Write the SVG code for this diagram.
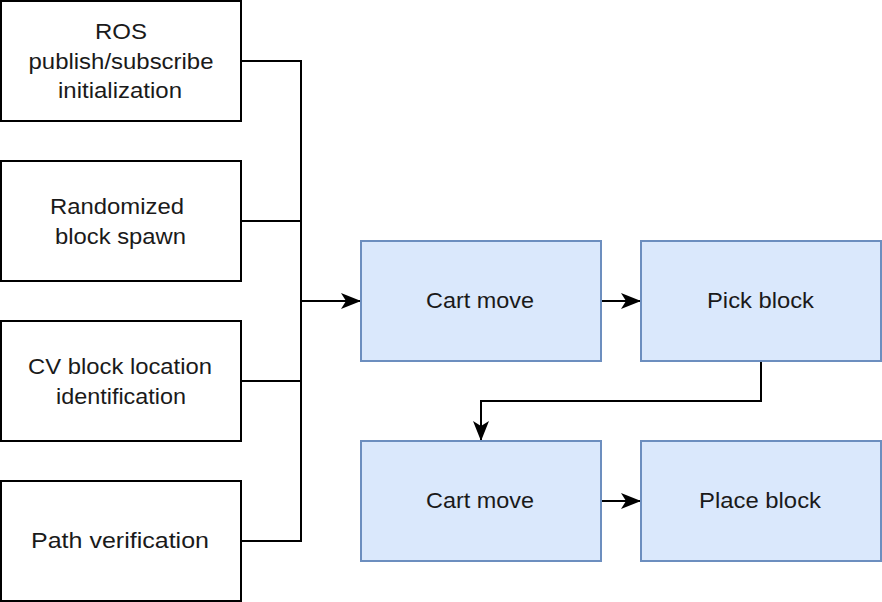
<svg xmlns="http://www.w3.org/2000/svg" width="882" height="602" viewBox="0 0 882 602">
<style>
.w{fill:#ffffff;stroke:#000000;stroke-width:2}
.b{fill:#dae8fc;stroke:#6c8ebf;stroke-width:2}
.t{font-family:"Liberation Sans",Arial,Helvetica,sans-serif;font-size:22px;fill:#1a1a1a;text-anchor:middle}
.c{fill:none;stroke:#000000;stroke-width:2}
</style>
<defs>
<marker id="ah" viewBox="0 0 20 16" refX="19" refY="8" markerWidth="20" markerHeight="16" markerUnits="userSpaceOnUse" orient="auto">
<path d="M0,0 L20,8 L0,16 L5,8 Z" fill="#000000"/>
</marker>
</defs>
<rect width="882" height="602" fill="#ffffff"/>
<g id="connectors">
<path class="c" d="M241,61 H301 V541 H241"/>
<path class="c" d="M241,221 H301"/>
<path class="c" d="M241,381 H301"/>
<path class="c" d="M301,301 H360" marker-end="url(#ah)"/>
<path class="c" d="M601,301 H640" marker-end="url(#ah)"/>
<path class="c" d="M761,361 V401 H481 V440" marker-end="url(#ah)"/>
<path class="c" d="M601,501 H640" marker-end="url(#ah)"/>
</g>
<g id="n1"><rect class="w" x="1" y="1" width="240" height="120"/>
<text class="t" x="121" y="39" textLength="52" lengthAdjust="spacingAndGlyphs">ROS</text><text class="t" x="121" y="68.5" textLength="185" lengthAdjust="spacingAndGlyphs">publish/subscribe</text><text class="t" x="120" y="98" textLength="124" lengthAdjust="spacingAndGlyphs">initialization</text></g>
<g id="n2"><rect class="w" x="1" y="161" width="240" height="120"/>
<text class="t" x="117" y="213.5" textLength="134" lengthAdjust="spacingAndGlyphs">Randomized</text><text class="t" x="120.5" y="243.5" textLength="131" lengthAdjust="spacingAndGlyphs">block spawn</text></g>
<g id="n3"><rect class="w" x="1" y="321" width="240" height="120"/>
<text class="t" x="120" y="373.5" textLength="184" lengthAdjust="spacingAndGlyphs">CV block location</text><text class="t" x="121" y="403.5" textLength="130" lengthAdjust="spacingAndGlyphs">identification</text></g>
<g id="n4"><rect class="w" x="1" y="481" width="240" height="120"/>
<text class="t" x="120" y="547.5" textLength="178" lengthAdjust="spacingAndGlyphs">Path verification</text></g>
<g id="n5"><rect class="b" x="361" y="241" width="240" height="120"/>
<text class="t" x="480" y="307.5" textLength="108" lengthAdjust="spacingAndGlyphs">Cart move</text></g>
<g id="n6"><rect class="b" x="641" y="241" width="240" height="120"/>
<text class="t" x="760.5" y="307.5" textLength="107" lengthAdjust="spacingAndGlyphs">Pick block</text></g>
<g id="n7"><rect class="b" x="361" y="441" width="240" height="120"/>
<text class="t" x="480" y="507.5" textLength="108" lengthAdjust="spacingAndGlyphs">Cart move</text></g>
<g id="n8"><rect class="b" x="641" y="441" width="240" height="120"/>
<text class="t" x="760" y="507.5" textLength="122" lengthAdjust="spacingAndGlyphs">Place block</text></g>
</svg>
